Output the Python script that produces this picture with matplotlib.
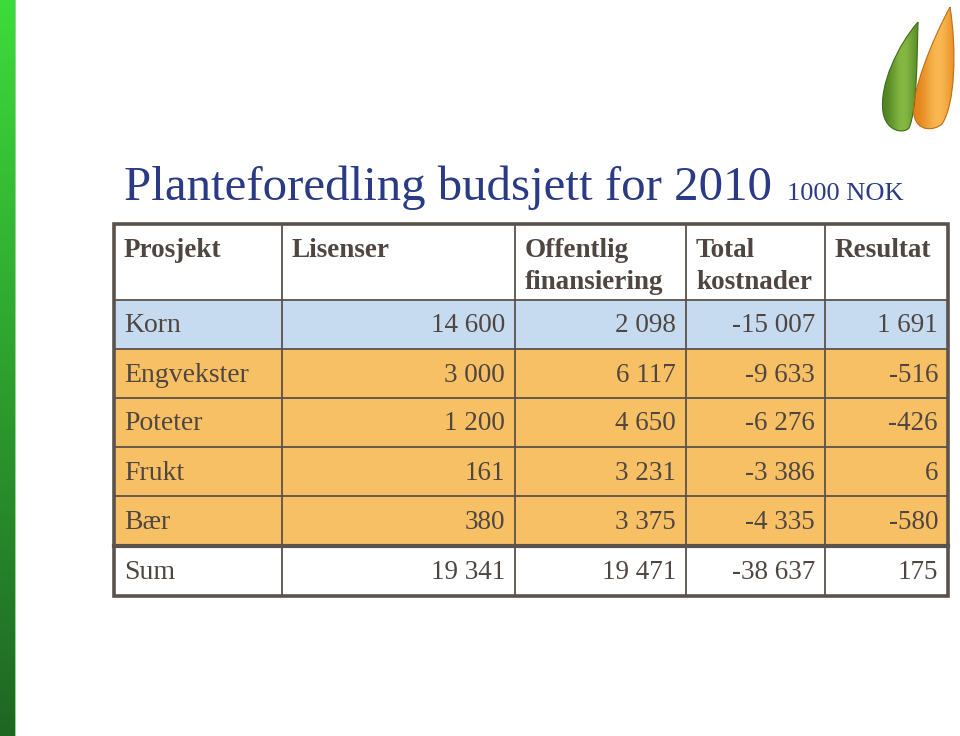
import numpy as np
import matplotlib
matplotlib.use("Agg")
import matplotlib.pyplot as plt
from matplotlib.patches import Rectangle, PathPatch
from matplotlib.path import Path

# ---- data ----
title = "Planteforedling budsjett for 2010"
unit = "1000 NOK"
headers = [["Prosjekt"], ["Lisenser"], ["Offentlig", "finansiering"], ["Total", "kostnader"], ["Resultat"]]
projects = ["Korn", "Engvekster", "Poteter", "Frukt", "Bær", "Sum"]
lisenser = [14600, 3000, 1200, 161, 380, 19341]
offentlig = [2098, 6117, 4650, 3231, 3375, 19471]
total_kost = [-15007, -9633, -6276, -3386, -4335, -38637]
resultat = [1691, -516, -426, 6, -580, 175]

def fmt(v):
    s = f"{abs(v):,}".replace(",", " ")
    return ("-" if v < 0 else "") + s

SERIF = "Liberation Serif"

fig = plt.figure(figsize=(9.6, 7.36), dpi=100)
ax = fig.add_axes([0, 0, 1, 1])
ax.set_xlim(0, 960)
ax.set_ylim(736, 0)
ax.axis("off")

# left green gradient bar
grad = np.linspace(0, 1, 256)[:, None]
top = np.array([0.24, 0.86, 0.23])
bot = np.array([0.12, 0.40, 0.14])
img = top[None, None, :] * (1 - grad[:, :, None]) + bot[None, None, :] * grad[:, :, None]
ax.imshow(img, extent=[0, 15, 736, 0], aspect="auto", zorder=1)
ax.add_patch(Rectangle((14.5, 0), 1.5, 736, color="#8fd98a", lw=0, zorder=1))

# logo leaves with gradient fill
def leaf(verts, c_dark, c_light, x0, x1, y0, y1, edge):
    codes = [Path.MOVETO] + [Path.CURVE4] * (len(verts) - 1)
    p = Path(verts, codes)
    patch = PathPatch(p, facecolor="none", edgecolor=edge, lw=0.8, zorder=4)
    ax.add_patch(patch)
    t = np.linspace(0, 1, 64)
    w = np.exp(-((t - 0.6) / 0.3) ** 2)
    cd = np.array(c_dark); cl = np.array(c_light)
    g = cd[None, :] * (1 - w[:, None]) + cl[None, :] * w[:, None]
    im = ax.imshow(g[None, :, :], extent=[x0, x1, y1, y0], aspect="auto", zorder=3)
    im.set_clip_path(patch)

leaf([(918, 22), (898, 45), (879, 85), (883, 112),
      (886, 132), (904, 134), (909, 128),
      (917, 110), (917, 60), (918, 22)],
     (0.30, 0.50, 0.12), (0.52, 0.72, 0.26), 878, 920, 20, 136, "#3d6b1a")
leaf([(950, 7), (932, 40), (910, 95), (914, 115),
      (917, 132), (934, 131), (942, 124),
      (955, 105), (957, 50), (950, 7)],
     (0.88, 0.50, 0.08), (0.98, 0.72, 0.32), 909, 958, 5, 133, "#c06d14")

# title
tcol = "#2a3a85"
ax.text(124, 200, title, fontsize=35.2, family=SERIF, color=tcol, ha="left", va="baseline")
ax.text(787, 200, unit, fontsize=19, family=SERIF, color=tcol, ha="left", va="baseline")

# table geometry
col_x = [114, 282, 515, 686, 825, 948]
row_y = [224, 300, 349, 398, 447, 496, 546, 596]
txt_col = "#4f4641"
line_col = "#5a524c"
blue = "#c6daf0"
orange = "#f8c064"

row_colors = [blue, orange, orange, orange, orange, "white"]
for i, c in enumerate(row_colors):
    ax.add_patch(Rectangle((col_x[0], row_y[i + 1]), col_x[-1] - col_x[0],
                           row_y[i + 2] - row_y[i + 1], color=c, lw=0, zorder=2))

# grid lines
for x in col_x[1:-1]:
    ax.plot([x, x], [row_y[0], row_y[-1]], color=line_col, lw=1.3, zorder=5)
for j, y in enumerate(row_y[1:-1], start=1):
    lw = 3 if j == 6 else 1.3
    ax.plot([col_x[0], col_x[-1]], [y, y], color=line_col, lw=lw, zorder=5)
ax.add_patch(Rectangle((col_x[0], row_y[0]), col_x[-1] - col_x[0], row_y[-1] - row_y[0],
                       fill=False, edgecolor=line_col, lw=2.6, zorder=6))

# headers
for k, lines in enumerate(headers):
    for li, h in enumerate(lines):
        ax.text(col_x[k] + 10, 257 + 32 * li, h, fontsize=19.5, family=SERIF, weight="bold",
                color=txt_col, ha="left", va="baseline", zorder=7)

# rows
cols = [lisenser, offentlig, total_kost, resultat]
for i, name in enumerate(projects):
    yb = (row_y[i + 1] + row_y[i + 2]) / 2 + 8
    ax.text(col_x[0] + 10, yb, name, fontsize=20, family=SERIF,
            color=txt_col, ha="left", va="baseline", zorder=7)
    for k, vals in enumerate(cols):
        ax.text(col_x[k + 2] - 10, yb, fmt(vals[i]), fontsize=19.5, family=SERIF,
                color=txt_col, ha="right", va="baseline", zorder=7)

fig.savefig("out.png", dpi=100, facecolor="white")
